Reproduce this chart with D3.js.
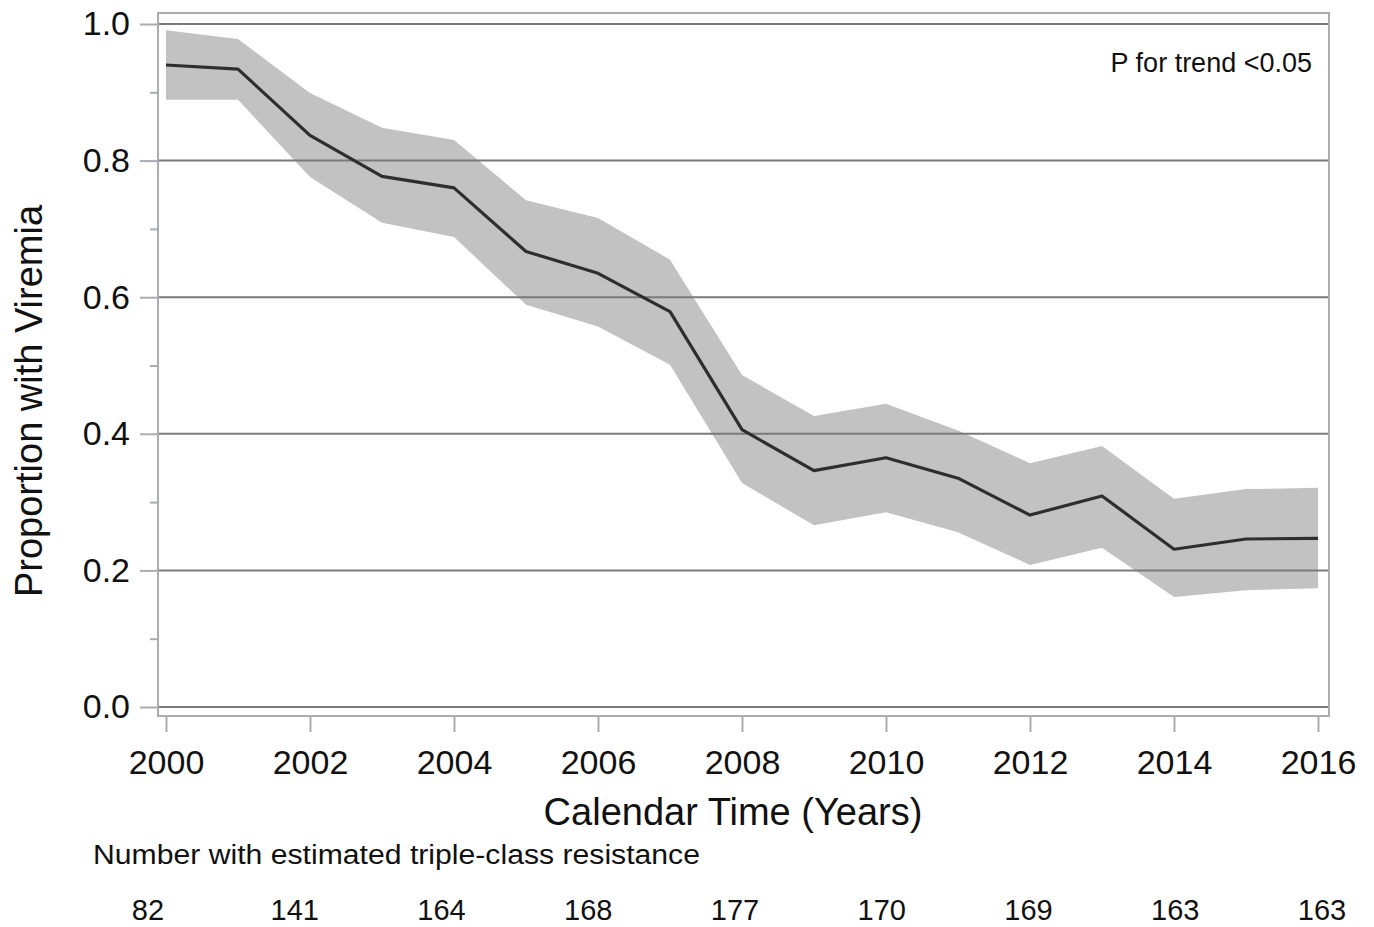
<!DOCTYPE html>
<html><head><meta charset="utf-8">
<script src="https://cdn.jsdelivr.net/npm/d3@7"></script>
<style>body{margin:0;background:#fff}svg{display:block;font-family:"Liberation Sans",Arial,sans-serif}</style>
</head><body><svg id="c" width="1374" height="927"></svg>
<script>
const years = [2000,2001,2002,2003,2004,2005,2006,2007,2008,2009,2010,2011,2012,2013,2014,2015,2016];
const proportion = [0.940,0.934,0.837,0.777,0.760,0.667,0.635,0.579,0.406,0.346,0.365,0.335,0.281,0.309,0.231,0.246,0.247];
const upperCI = [0.991,0.978,0.899,0.848,0.830,0.742,0.716,0.655,0.486,0.426,0.444,0.405,0.357,0.382,0.305,0.319,0.321];
const lowerCI = [0.889,0.889,0.776,0.709,0.688,0.589,0.557,0.501,0.328,0.266,0.285,0.256,0.208,0.233,0.161,0.171,0.174];
const xTicks = [2000,2002,2004,2006,2008,2010,2012,2014,2016];
const yTicks = [0.0,0.2,0.4,0.6,0.8,1.0];
const yMinor = [0.1,0.3,0.5,0.7,0.9];
const countYears = [2000,2002,2004,2006,2008,2010,2012,2014,2016];
const counts = [82,141,164,168,177,170,169,163,163];

const svg = d3.select("#c");
const frame = {l:158, r:1329, t:13, b:716};
const x = d3.scaleLinear().domain([2000,2016]).range([166,1318]);
const y = d3.scaleLinear().domain([0,1]).range([707,24]);
const xc = d3.scaleLinear().domain([2000,2016]).range([148,1322]);

const data = years.map((yr,i)=>({yr, p:proportion[i], lo:lowerCI[i], hi:upperCI[i]}));

// band
svg.append("path").datum(data)
  .attr("d", d3.area().x(d=>x(d.yr)).y0(d=>y(d.lo)).y1(d=>y(d.hi)))
  .attr("fill","#c2c2c2");

// gridlines
svg.append("g").selectAll("line").data(yTicks).join("line")
  .attr("x1",frame.l).attr("x2",frame.r)
  .attr("y1",d=>y(d)).attr("y2",d=>y(d))
  .attr("stroke","#7a7a7a").attr("stroke-width",2);

// line
svg.append("path").datum(data)
  .attr("d", d3.line().x(d=>x(d.yr)).y(d=>y(d.p)))
  .attr("fill","none").attr("stroke","#2e2e2e").attr("stroke-width",3.2).attr("stroke-linejoin","round");

// frame
svg.append("rect").attr("x",frame.l).attr("y",frame.t)
  .attr("width",frame.r-frame.l).attr("height",frame.b-frame.t)
  .attr("fill","none").attr("stroke","#a9adb2").attr("stroke-width",2);

// y axis
const yAxis = d3.axisLeft(y).tickValues(yTicks).tickFormat(d3.format(".1f")).tickSize(18).tickPadding(10);
const gy = svg.append("g").attr("transform",`translate(${frame.l},0)`).call(yAxis);
gy.select(".domain").remove();
gy.selectAll(".tick line").attr("stroke","#a9adb2").attr("stroke-width",2);
gy.selectAll(".tick text").attr("font-size",34).attr("fill","#111").attr("font-family","Liberation Sans, Arial, sans-serif");
const gym = svg.append("g").attr("transform",`translate(${frame.l},0)`)
  .call(d3.axisLeft(y).tickValues(yMinor).tickSize(8).tickFormat(""));
gym.select(".domain").remove();
gym.selectAll(".tick line").attr("stroke","#a9adb2").attr("stroke-width",2);

// x axis
const xAxis = d3.axisBottom(x).tickValues(xTicks).tickFormat(d3.format("d")).tickSize(16).tickPadding(18);
const gx = svg.append("g").attr("transform",`translate(0,${frame.b})`).call(xAxis);
gx.select(".domain").remove();
gx.selectAll(".tick line").attr("stroke","#a9adb2").attr("stroke-width",2);
gx.selectAll(".tick text").attr("font-size",34).attr("fill","#111").attr("font-family","Liberation Sans, Arial, sans-serif");

// titles
svg.append("text").attr("x",733).attr("y",825).attr("text-anchor","middle")
  .attr("font-size",38).attr("fill","#111").text("Calendar Time (Years)");
svg.append("text").attr("transform","translate(42,401) rotate(-90)").attr("text-anchor","middle")
  .attr("font-size",38).attr("fill","#111").text("Proportion with Viremia");
svg.append("text").attr("x",1312).attr("y",72).attr("text-anchor","end")
  .attr("font-size",27).attr("fill","#111").text("P for trend <0.05");
svg.append("text").attr("x",93).attr("y",864)
  .attr("font-size",27).attr("fill","#111")
  .attr("textLength",607).attr("lengthAdjust","spacingAndGlyphs")
  .text("Number with estimated triple-class resistance");

svg.append("g").selectAll("text").data(countYears.map((yr,i)=>({yr,n:counts[i]}))).join("text")
  .attr("x",d=>xc(d.yr)).attr("y",920).attr("text-anchor","middle")
  .attr("font-size",29).attr("fill","#111").text(d=>d.n);
</script></body></html>
